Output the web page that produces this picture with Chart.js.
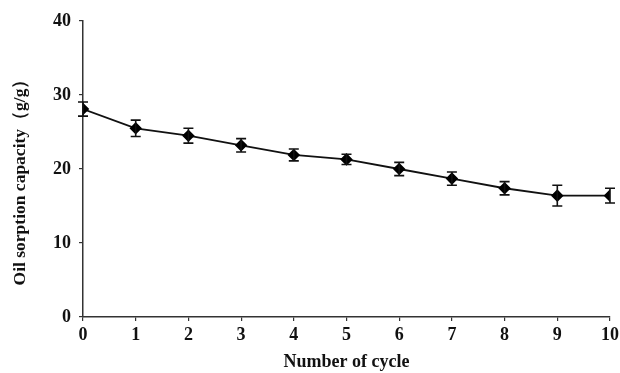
<!DOCTYPE html>
<html>
<head>
<meta charset="utf-8">
<script src="https://cdn.jsdelivr.net/npm/chart.js@4/dist/chart.umd.min.js"></script>
<style>
  html, body { margin: 0; padding: 0; background: #fff; }
  #wrap { width: 620px; height: 373px; }
</style>
</head>
<body>
<div id="wrap"><canvas id="c" width="620" height="373"></canvas></div>
<script>
const cycles = [0, 1, 2, 3, 4, 5, 6, 7, 8, 9, 10];
const capacity = [28.1, 25.5, 24.5, 23.2, 21.9, 21.3, 20.0, 18.7, 17.4, 16.4, 16.4];
const errors = [0.95, 1.1, 1.0, 0.9, 0.8, 0.7, 0.9, 0.9, 0.9, 1.4, 1.0];
const yTicks = [0, 10, 20, 30, 40];
const xTitle = 'Number of cycle';
const yTitle = 'Oil sorption capacity（g/g）';

const fontFam = '"Liberation Serif", "Times New Roman", serif';

const errorBarPlugin = {
  id: 'errorBars',
  afterDatasetsDraw(chart) {
    const ctx = chart.ctx;
    const xs = chart.scales.x, ys = chart.scales.y;
    ctx.save();
    ctx.strokeStyle = '#111';
    ctx.lineWidth = 1.6;
    cycles.forEach((c, i) => {
      const px = xs.getPixelForValue(c);
      const pTop = ys.getPixelForValue(capacity[i] + errors[i]);
      const pBot = ys.getPixelForValue(capacity[i] - errors[i]);
      ctx.beginPath();
      ctx.moveTo(px, pTop); ctx.lineTo(px, pBot);
      ctx.moveTo(px - 5, pTop); ctx.lineTo(px + 5, pTop);
      ctx.moveTo(px - 5, pBot); ctx.lineTo(px + 5, pBot);
      ctx.stroke();
    });
    ctx.restore();
  }
};

new Chart(document.getElementById('c'), {
  type: 'line',
  data: {
    datasets: [{
      data: cycles.map((c, i) => ({ x: c, y: capacity[i] })),
      borderColor: '#111',
      backgroundColor: '#000',
      borderWidth: 1.8,
      pointStyle: 'rectRot',
      pointRadius: 5,
      pointHoverRadius: 5,
      pointBackgroundColor: '#000',
      pointBorderColor: '#000',
      tension: 0
    }]
  },
  options: {
    responsive: false,
    animation: false,
    events: [],
    layout: { padding: { left: 0, right: 10, top: 21, bottom: 0 } },
    plugins: { legend: { display: false }, tooltip: { enabled: false } },
    scales: {
      x: {
        type: 'linear', min: 0, max: 10,
        afterBuildTicks(s) { s.ticks = cycles.map(v => ({ value: v })); },
        afterFit(s) { s.height = 56; s.paddingRight = 10; s.paddingLeft = 0; },
        border: { display: true, color: '#333', width: 1.5 },
        grid: { display: true, drawOnChartArea: false, drawTicks: true, tickLength: 4, color: '#333', lineWidth: 1.2 },
        ticks: { color: '#111', font: { family: fontFam, size: 18, weight: 'bold' }, padding: 4, maxRotation: 0 },
        title: { display: true, text: xTitle, color: '#111', font: { family: fontFam, size: 18, weight: 'bold' }, padding: { top: 6, bottom: 0 } }
      },
      y: {
        type: 'linear', min: 0, max: 40,
        afterBuildTicks(s) { s.ticks = yTicks.map(v => ({ value: v })); },
        afterFit(s) { s.width = 83; },
        border: { display: true, color: '#333', width: 1.5 },
        grid: { display: true, drawOnChartArea: false, drawTicks: true, tickLength: 4, color: '#333', lineWidth: 1.2 },
        ticks: { color: '#111', font: { family: fontFam, size: 18, weight: 'bold' }, padding: 8 },
        title: { display: true, text: yTitle + '\u3000', color: '#111', font: { family: fontFam, size: 17.5, weight: 'bold' }, padding: { top: 10, bottom: 0 } }
      }
    }
  },
  plugins: [errorBarPlugin]
});
</script>
</body>
</html>
